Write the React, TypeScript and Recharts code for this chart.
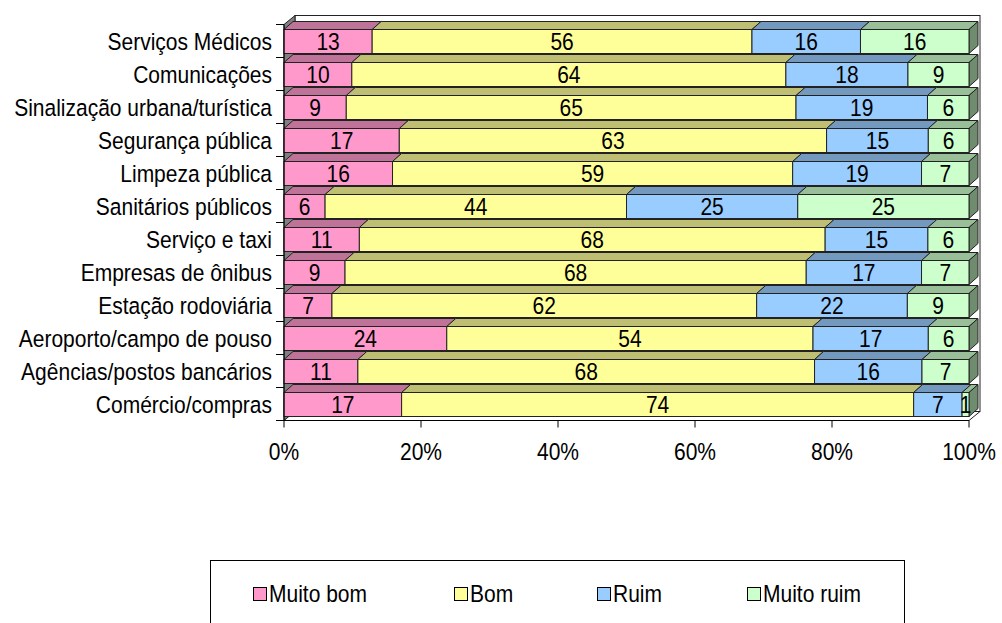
import { BarChart, Bar, XAxis, YAxis, LabelList, Legend } from "recharts";

const CATEGORIES = [
  "Serviços Médicos",
  "Comunicações",
  "Sinalização urbana/turística",
  "Segurança pública",
  "Limpeza pública",
  "Sanitários públicos",
  "Serviço e taxi",
  "Empresas de ônibus",
  "Estação rodoviária",
  "Aeroporto/campo de pouso",
  "Agências/postos bancários",
  "Comércio/compras",
];
const MUITO_BOM = [13, 10, 9, 17, 16, 6, 11, 9, 7, 24, 11, 17];
const BOM = [56, 64, 65, 63, 59, 44, 68, 68, 62, 54, 68, 74];
const RUIM = [16, 18, 19, 15, 19, 25, 15, 17, 22, 17, 16, 7];
const MUITO_RUIM = [16, 9, 6, 6, 7, 25, 6, 7, 9, 6, 7, 1];
const PCT_TICKS = [0, 20, 40, 60, 80, 100];

const SERIES = [
  { key: "muitoBom", name: "Muito bom", values: MUITO_BOM },
  { key: "bom", name: "Bom", values: BOM },
  { key: "ruim", name: "Ruim", values: RUIM },
  { key: "muitoRuim", name: "Muito ruim", values: MUITO_RUIM },
];

// front / top / side shading per series
const COLORS: Record<string, { front: string; top: string; side: string }> = {
  muitoBom: { front: "#FF99CC", top: "#BF7399", side: "#99607A" },
  bom: { front: "#FFFF99", top: "#BFBF73", side: "#99995C" },
  ruim: { front: "#99CCFF", top: "#7399BF", side: "#5C7A99" },
  muitoRuim: { front: "#CCFFCC", top: "#99BF99", side: "#6F8C6F" },
};

const rows = CATEGORIES.map((name, i) => {
  const row: Record<string, string | number> = { name };
  SERIES.forEach((s) => (row[s.key] = s.values[i]));
  return row;
});

const W = 1002;
const H = 623;
const MARGIN = { top: 24.5, right: 33, bottom: 162.5, left: 0 };
const Y_AXIS_W = 284;
const X_AXIS_H = 40;
const FONT = '"Liberation Sans", Arial, sans-serif';
const EDGE = "#222";
// the text is drawn a little taller than the font's natural shape
const TEXT_STRETCH = 1.17;

// depth of the bars and of the walls
const BAR_DX = 9;
const BAR_DY = 8;
const WALL_DX = 11;
const WALL_DY = 9;

const plot = {
  left: MARGIN.left + Y_AXIS_W,
  top: MARGIN.top,
  right: W - MARGIN.right,
  bottom: H - MARGIN.bottom - X_AXIS_H,
};

function Block3D(props: any) {
  const { x, y, width, height, colors, withSide } = props;
  if (width == null || width <= 0) return null;
  const top = `${x},${y} ${x + BAR_DX},${y - BAR_DY} ${x + width + BAR_DX},${y - BAR_DY} ${x + width},${y}`;
  const side = `${x + width},${y} ${x + width + BAR_DX},${y - BAR_DY} ${x + width + BAR_DX},${y + height - BAR_DY} ${x + width},${y + height}`;
  return (
    <g>
      <polygon points={top} fill={colors.top} stroke={EDGE} strokeWidth={1} />
      {withSide && <polygon points={side} fill={colors.side} stroke={EDGE} strokeWidth={1} />}
      <rect x={x} y={y} width={width} height={height} fill={colors.front} stroke={EDGE} strokeWidth={1} />
    </g>
  );
}

// back wall, left wall, floor and the category boundary ticks
function Walls() {
  const band = (plot.bottom - plot.top) / CATEGORIES.length;
  return (
    <svg width={W} height={H} style={{ position: "absolute", left: 0, top: 0 }}>
      <rect
        x={plot.left + WALL_DX}
        y={plot.top - WALL_DY}
        width={plot.right - plot.left}
        height={plot.bottom - plot.top}
        fill="#fff"
        stroke={EDGE}
      />
      <polygon
        points={`${plot.left},${plot.top} ${plot.left + WALL_DX},${plot.top - WALL_DY} ${plot.left + WALL_DX},${plot.bottom - WALL_DY} ${plot.left},${plot.bottom}`}
        fill="#808080"
        stroke={EDGE}
      />
      <polygon
        points={`${plot.left},${plot.bottom} ${plot.left + WALL_DX},${plot.bottom - WALL_DY} ${plot.right + WALL_DX},${plot.bottom - WALL_DY} ${plot.right},${plot.bottom}`}
        fill="#fff"
        stroke={EDGE}
      />
      {Array.from({ length: CATEGORIES.length + 1 }, (_, k) => (
        <line
          key={k}
          x1={plot.left - 8}
          x2={plot.left}
          y1={plot.top + k * band}
          y2={plot.top + k * band}
          stroke="#000"
        />
      ))}
    </svg>
  );
}

const LEGEND_ITEM_W = [201, 143, 150, 130];

function LegendBox() {
  return (
    <div
      style={{
        width: 695,
        height: 80,
        boxSizing: "border-box",
        border: "1px solid #000",
        background: "#fff",
        display: "flex",
        alignItems: "flex-start",
        paddingTop: 19,
        paddingLeft: 42,
        fontFamily: FONT,
        fontSize: 21,
        color: "#000",
      }}
    >
      {SERIES.map((s, i) => (
        <div key={s.key} style={{ width: LEGEND_ITEM_W[i], height: 28, display: "flex", alignItems: "center" }}>
          <span
            style={{
              width: 12,
              height: 12,
              background: COLORS[s.key].front,
              border: "1px solid #000",
              marginRight: 2,
              display: "inline-block",
            }}
          />
          <span style={{ display: "inline-block", transform: `scaleY(${TEXT_STRETCH})` }}>{s.name}</span>
        </div>
      ))}
    </div>
  );
}

export default function App() {
  return (
    <div style={{ position: "relative", width: W, height: H, background: "#fff" }}>
      <style>{`
        body { margin: 0; }
        .recharts-text {
          transform-box: fill-box;
          transform-origin: center;
          transform: scaleY(${TEXT_STRETCH});
        }
      `}</style>
      <Walls />
      <div style={{ position: "absolute", left: 0, top: 0 }}>
        <BarChart
          width={W}
          height={H}
          data={rows}
          layout="vertical"
          stackOffset="expand"
          barSize={24}
          margin={MARGIN}
        >
          <XAxis
            type="number"
            domain={[0, 1]}
            ticks={PCT_TICKS.map((t) => t / 100)}
            tickFormatter={(v) => `${Math.round(Number(v) * 100)}%`}
            height={X_AXIS_H}
            tickSize={7}
            tickMargin={16}
            stroke="#000"
            tick={{ fill: "#000", fontSize: 21, fontFamily: FONT }}
          />
          <YAxis
            type="category"
            dataKey="name"
            width={Y_AXIS_W}
            tickLine={false}
            tickMargin={6}
            stroke="#000"
            interval={0}
            tick={{ fill: "#000", fontSize: 21, fontFamily: FONT }}
          />
          <Legend
            layout="vertical"
            align="center"
            verticalAlign="middle"
            wrapperStyle={{ left: 210, top: 560 }}
            content={() => <LegendBox />}
          />
          {SERIES.map((s, i) => (
            <Bar
              key={s.key}
              dataKey={s.key}
              name={s.name}
              stackId="a"
              isAnimationActive={false}
              shape={(p: any) => (
                <Block3D {...p} colors={COLORS[s.key]} withSide={i === SERIES.length - 1} />
              )}
            >
              <LabelList
                dataKey={s.key}
                position="center"
                fill="#000"
                fontSize={21}
                fontFamily={FONT}
              />
            </Bar>
          ))}
        </BarChart>
      </div>
    </div>
  );
}
